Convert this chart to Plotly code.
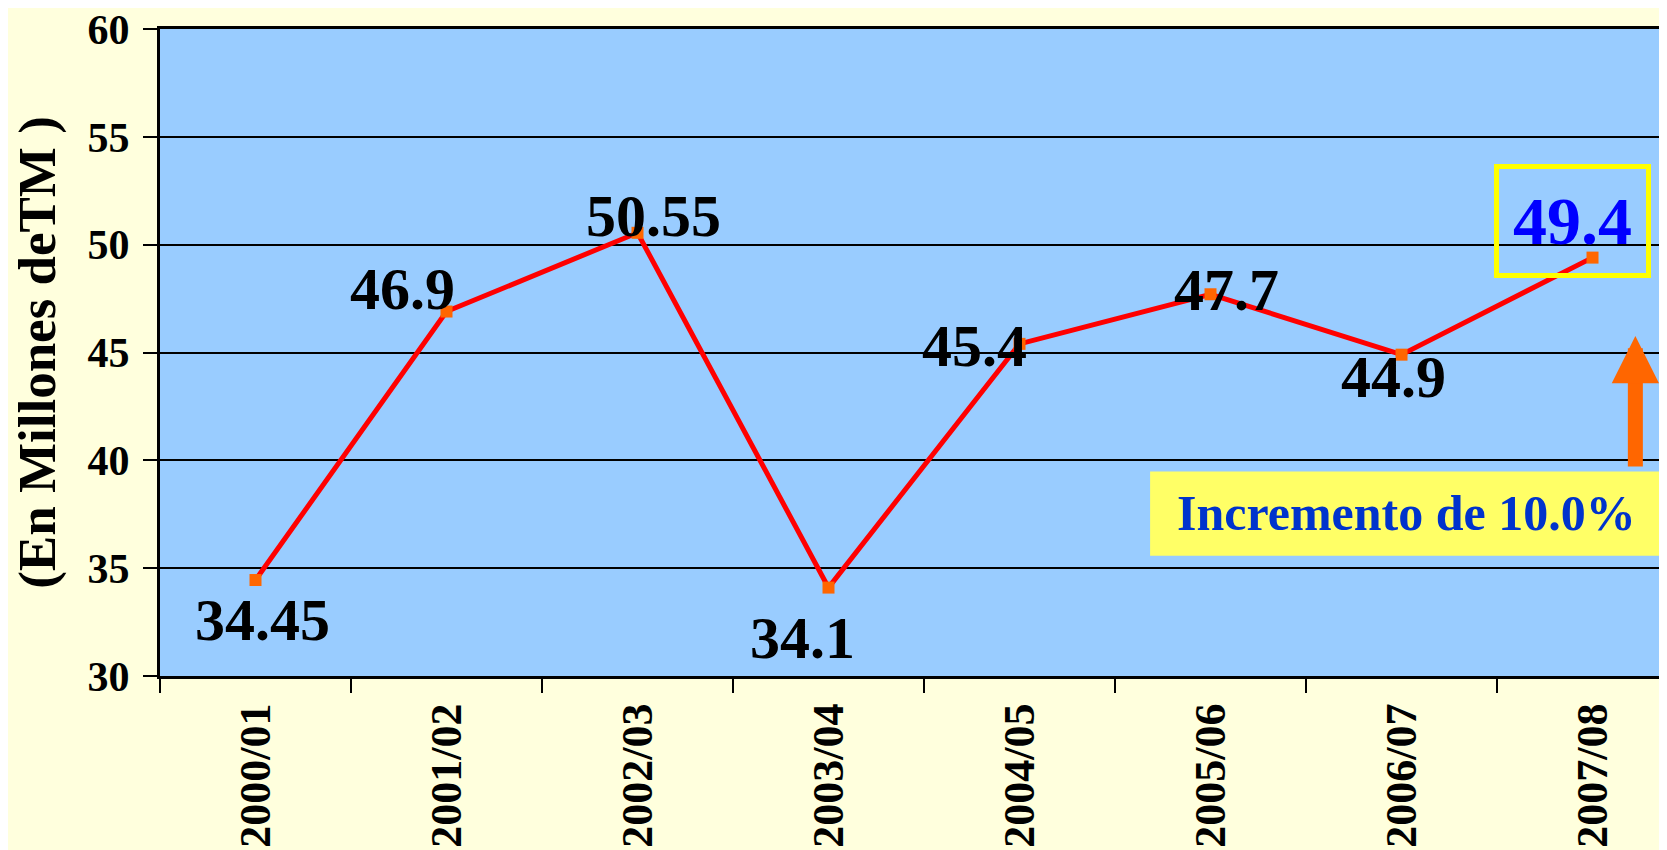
import plotly.graph_objects as go

# data
seasons = ["2000/01", "2001/02", "2002/03", "2003/04", "2004/05", "2005/06", "2006/07", "2007/08"]
production = [34.45, 46.9, 50.55, 34.1, 45.4, 47.7, 44.9, 49.4]
labels = ["34.45", "46.9", "50.55", "34.1", "45.4", "47.7", "44.9", "49.4"]
y_title = "(En Millones deTM )"
note_text = "Incremento de 10.0%"

# pixel offsets of each value label from its point
label_shift = [(7, -40), (-44, 23), (16, 17), (-26, -50), (-45, -2), (16, 4), (-8, -22), (-20, 37)]

SERIF = "Liberation Serif"

fig = go.Figure(
    go.Scatter(
        x=seasons,
        y=production,
        mode="lines+markers",
        line=dict(color="#FF0000", width=5),
        marker=dict(symbol="square", size=12, color="#FF6600"),
        hoverinfo="skip",
    )
)

for i, (s, v, t) in enumerate(zip(seasons, production, labels)):
    dx, dy = label_shift[i]
    last = i == len(seasons) - 1
    fig.add_annotation(
        x=s, y=v, text=t, showarrow=False,
        xshift=dx, yshift=dy,
        font=dict(family=SERIF, weight="bold", size=68 if last else 60,
                  color="#0000FF" if last else "black"),
        bordercolor="#FFFF00" if last else None,
        borderwidth=5 if last else 0,
        borderpad=14 if last else 0,
    )

# yellow note box
fig.add_shape(
    type="rect", xref="paper", yref="paper",
    x0=0.657, x1=1.0, y0=0.186, y1=0.316,
    fillcolor="#FFFF66", line=dict(width=0), layer="above",
)
fig.add_annotation(
    xref="paper", yref="paper", x=0.827, y=0.252,
    xanchor="center", yanchor="middle",
    text=note_text, showarrow=False,
    font=dict(family=SERIF, weight="bold", size=50, color="#0033CC"),
)

# orange arrow
fig.add_annotation(
    xref="paper", yref="paper", x=0.979, y=0.5255,
    ax=0, ay=132, text="", showarrow=True,
    arrowhead=2, arrowwidth=15, arrowsize=0.63, arrowcolor="#FF6600",
)

# page body has an 8px margin, so the figure is made 8px smaller
fig.update_layout(
    template="none",
    width=1659, height=842,
    margin=dict(l=152, r=0, t=21, b=174),
    paper_bgcolor="#FFFFDD",
    plot_bgcolor="#99CCFF",
    showlegend=False,
    xaxis=dict(
        type="category",
        automargin=False,
        range=[-0.5, 7.39],
        showgrid=False,
        showline=True, mirror=True, linecolor="black", linewidth=3,
        ticks="outside", tickson="boundaries", ticklen=14, tickwidth=2, tickcolor="black",
        tickangle=-90,
        ticklabelstandoff=7,
        ticklabeloverflow="allow",
        tickfont=dict(family=SERIF, weight="bold", size=44, color="black"),
    ),
    yaxis=dict(
        automargin=False,
        range=[30, 60], dtick=5,
        showgrid=True, gridcolor="black", gridwidth=2,
        zeroline=False,
        showline=True, linecolor="black", linewidth=3,
        ticks="outside", ticklen=14, tickwidth=2, tickcolor="black",
        ticklabelstandoff=5,
        ticklabeloverflow="allow",
        tickfont=dict(family=SERIF, weight="bold", size=42, color="black"),
        title=dict(text=y_title, standoff=16,
                   font=dict(family=SERIF, weight="bold", size=53, color="black")),
    ),
)

fig.write_html("out.html")
